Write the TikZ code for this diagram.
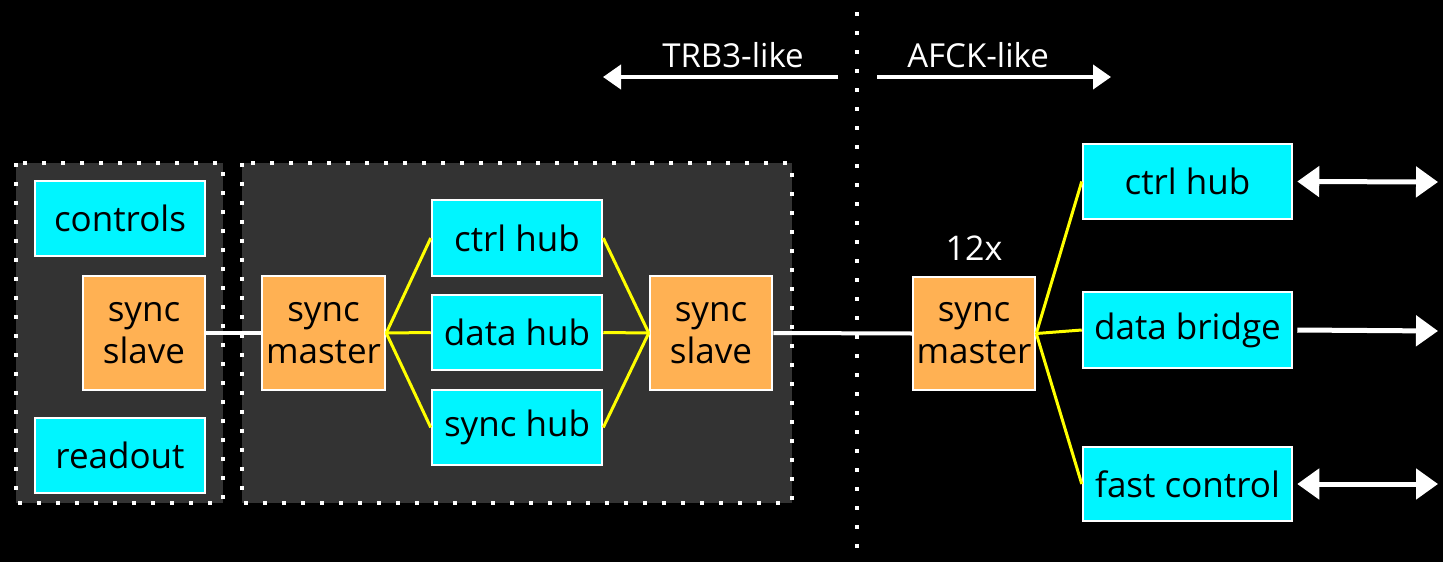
\documentclass[tikz,border=0pt]{standalone}
\usepackage{fontspec}
\setmainfont{Open Sans}
\usetikzlibrary{arrows.meta}
\definecolor{boxcyan}{HTML}{00F5FF}
\definecolor{boxorange}{HTML}{FFB153}
\definecolor{grp}{HTML}{333333}
\definecolor{link}{HTML}{FFFF00}
\tikzset{
  blk/.style={draw=white, line width=2.5pt, inner sep=0pt, align=center,
    font=\fontsize{35}{42}\selectfont, text=black},
  cyanbox/.style={blk, fill=boxcyan},
  orangebox/.style={blk, fill=boxorange},
  grpbox/.style={draw=white, fill=grp, line width=4pt, dash pattern=on 4pt off 15pt},
  wline/.style={draw=white, line width=4pt},
  yline/.style={draw=link, line width=3pt},
  bigarrow/.style={white, line width=4pt, arrows={-Triangle[length=18pt,width=24pt]}},
  rightarrow/.style={white, line width=5pt, arrows={-Triangle[length=22pt,width=30pt]}},
  bigdarrow/.style={white, line width=5pt, arrows={Triangle[length=22pt,width=30pt]-Triangle[length=22pt,width=30pt]}},
  lbl/.style={text=white, font=\fontsize{33}{38}\selectfont, inner sep=0pt}
}
\begin{document}
\begin{tikzpicture}[x=1pt,y=-1pt]
\fill[black] (0,0) rectangle (1443,562);
\useasboundingbox (0,0) rectangle (1443,562);

% group boxes
\draw[grpbox] (16,163) rectangle (223,503);
\draw[grpbox] (242,163) rectangle (792,503);

% divider
\draw[white, line width=4pt, dash pattern=on 4pt off 15pt] (857,12) -- (857,552);

% top labels and arrows
\node[lbl] (trb) at (733,55) {TRB3-like};
\node[lbl] (afck) at (978,55) {AFCK-like};
\coordinate (trbs) at (838,77);
\coordinate (trbe) at (603,77);
\coordinate (afs) at (877,77);
\coordinate (afe) at (1111,77);
\draw[bigarrow] (trbs) -- (trbe);
\draw[bigarrow] (afs) -- (afe);

% left group
\node[cyanbox, minimum width=170pt, minimum height=75pt] (controls) at (120,218.5) {controls};
\node[orangebox, minimum width=122pt, minimum height=114pt] (sslave1) at (144,333) {sync\\slave};
\node[cyanbox, minimum width=170pt, minimum height=75pt] (readout) at (120,455.5) {readout};

% middle group
\node[orangebox, minimum width=123pt, minimum height=114pt] (smaster1) at (323.5,333) {sync\\master};
\node[cyanbox, minimum width=170pt, minimum height=76pt] (ctrlhub1) at (517,238) {ctrl hub};
\node[cyanbox, minimum width=170pt, minimum height=75pt] (datahub) at (517,332.5) {data hub};
\node[cyanbox, minimum width=170pt, minimum height=75pt] (synchub) at (517,427.5) {sync hub};
\node[orangebox, minimum width=122pt, minimum height=114pt] (sslave2) at (711,333) {sync\\slave};

% right side
\node[orangebox, minimum width=122pt, minimum height=113pt] (smaster2) at (974,333.5) {sync\\master};
\node[lbl, font=\fontsize{34}{38}\selectfont] (twelve) at (974,248) {12x};
\node[cyanbox, minimum width=209pt, minimum height=75pt] (ctrlhub2) at (1187.5,181.5) {ctrl hub};
\node[cyanbox, minimum width=209pt, minimum height=76pt] (bridge) at (1187.5,330) {data bridge};
\node[cyanbox, minimum width=209pt, minimum height=74pt] (fastctrl) at (1187.5,484) {fast control};

% connectors
\draw[wline] (sslave1.east) -- (smaster1.west);
\draw[yline] (smaster1.east) -- (ctrlhub1.west);
\draw[yline] (smaster1.east) -- (datahub.west);
\draw[yline] (smaster1.east) -- (synchub.west);
\draw[yline] (ctrlhub1.east) -- (sslave2.west);
\draw[yline] (datahub.east) -- (sslave2.west);
\draw[yline] (synchub.east) -- (sslave2.west);
\draw[wline] (sslave2.east) -- (smaster2.west);
\draw[yline] (smaster2.east) -- (ctrlhub2.west);
\draw[yline] (smaster2.east) -- (bridge.west);
\draw[yline] (smaster2.east) -- (fastctrl.west);

% outgoing arrows
\coordinate (c1) at (1438,182);
\coordinate (c2) at (1438,331);
\coordinate (c3) at (1438,484);
\draw[bigdarrow] ([xshift=4pt]ctrlhub2.east) -- (c1);
\draw[rightarrow] ([xshift=4pt]bridge.east) -- (c2);
\draw[bigdarrow] ([xshift=4pt]fastctrl.east) -- (c3);
\end{tikzpicture}
\end{document}
